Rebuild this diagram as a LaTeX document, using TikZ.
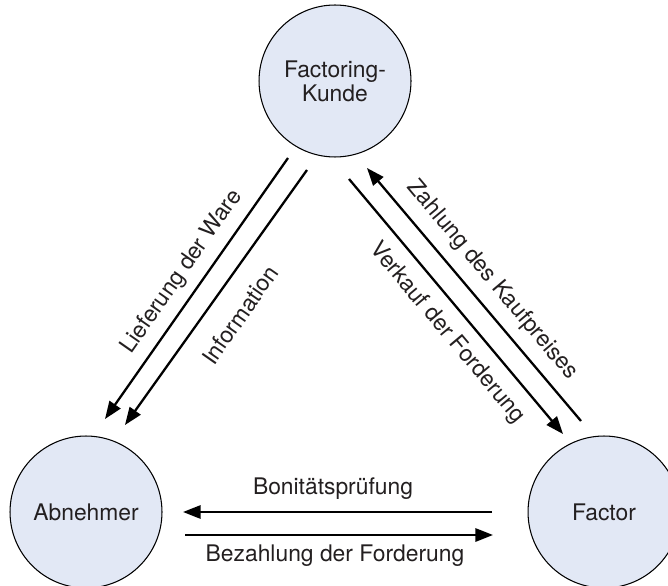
\documentclass[tikz,border=0pt]{standalone}
\usepackage{fontspec}
\setmainfont{TeX Gyre Heros}
\usetikzlibrary{arrows.meta}
\definecolor{kreis}{RGB}{226,232,245}
\definecolor{schrift}{RGB}{35,31,32}

\begin{document}
\begin{tikzpicture}[x=0.02cm,y=0.02cm,
  every node/.style={font=\fontsize{13}{13.5}\selectfont,text=schrift},
  partner/.style={circle,draw=black,line width=0.6pt,fill=kreis,minimum size=3.04cm,inner sep=0pt,align=center},
  fluss/.style={line width=1.3pt,-{Triangle[length=10pt,width=7.5pt]}},
  beschr/.style={inner sep=0pt}]
\clip (0,0) rectangle (668,585);
%\draw[step=50,gray,very thin] (0,0) grid (668,585); %background grid
\node[partner] (kunde) at (335,504) {Factoring-\\Kunde}; %oben
\node[partner] (abnehmer) at (86,73) {Abnehmer}; %links
\node[partner] (factor) at (604,73) {Factor}; %rechts
% Kunde -> Abnehmer
\coordinate (lwA) at (288,427); \coordinate (lwB) at (105,166);
\coordinate (inA) at (307,415); \coordinate (inB) at (125,160);
\draw[fluss] (lwA) -- (lwB);
\draw[fluss] (inA) -- (inB);
\node[beschr,rotate=55] (lw) at (182,313) {Lieferung der Ware};
\node[beschr,rotate=55] (in) at (240,270) {Information};
% Kunde <-> Factor
\coordinate (vkA) at (349,406); \coordinate (vkB) at (563,151);
\coordinate (zkA) at (581,164); \coordinate (zkB) at (367,417);
\draw[fluss] (vkA) -- (vkB);
\draw[fluss] (zkA) -- (zkB);
\node[beschr,rotate=-50] (vk) at (447,252) {Verkauf der Forderung};
\node[beschr,rotate=-50] (zk) at (492,305) {Zahlung des Kaufpreises};
% Factor <-> Abnehmer
\coordinate (bpA) at (492,73); \coordinate (bpB) at (183,73);
\coordinate (bzA) at (185,50); \coordinate (bzB) at (493,50);
\draw[fluss] (bpA) -- (bpB);
\draw[fluss] (bzA) -- (bzB);
\node[beschr] (bp) at (333,96) {Bonitätsprüfung};
\node[beschr] (bz) at (335,29) {Bezahlung der Forderung};
\end{tikzpicture}
\end{document}
